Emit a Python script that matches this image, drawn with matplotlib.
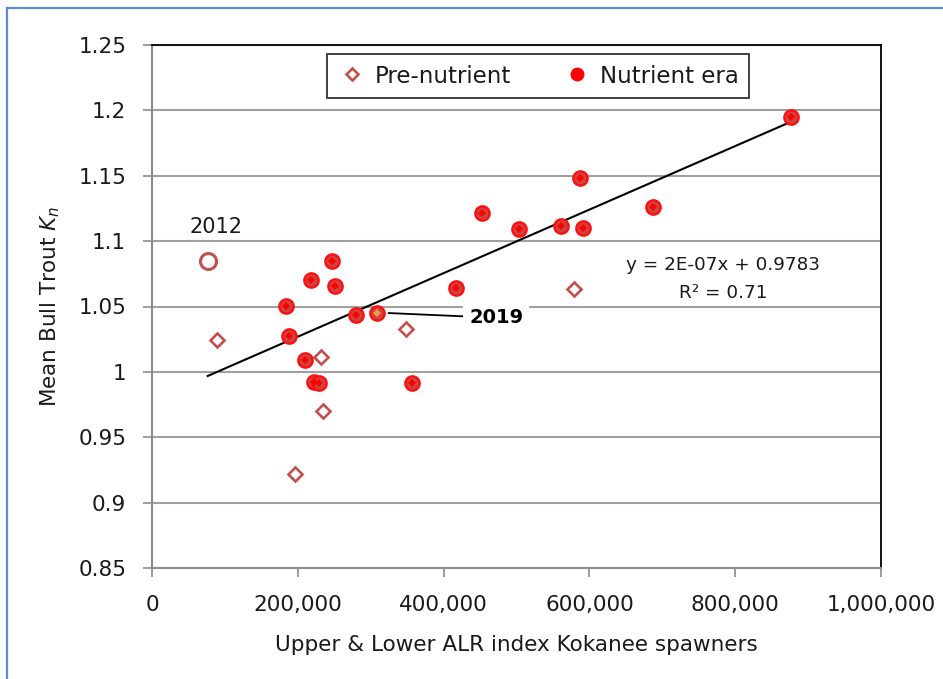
import matplotlib
matplotlib.use("Agg")
import matplotlib.pyplot as plt
from matplotlib.lines import Line2D
from matplotlib.ticker import FuncFormatter, MultipleLocator

# Kokanee spawner index vs. mean Bull Trout relative condition (Kn)
pre_x = [88700, 195700, 232500, 234000, 348900, 579300]
pre_y = [1.0245, 0.9218, 1.0117, 0.9697, 1.0331, 1.0635]

nut_x = [876000, 587500, 686800, 452700, 503400, 560600, 590800, 417000,
         246500, 218600, 250600, 183400, 279800, 187900, 210300, 222200,
         229500, 356700]
nut_y = [1.195, 1.148, 1.1264, 1.1218, 1.109, 1.1116, 1.110, 1.064,
         1.085, 1.0703, 1.0657, 1.0505, 1.0436, 1.0275, 1.0092, 0.9924,
         0.9918, 0.9914]

# highlighted years
yr2012_x, yr2012_y = 76400, 1.085
yr2019_x, yr2019_y = 308200, 1.0454

# linear trend (Excel trendline)
trend_slope = 2.43e-07
trend_intercept = 0.9783
r_squared = 0.71

x_ticks = [0, 200000, 400000, 600000, 800000, 1000000]

W, H = 943, 679
fig = plt.figure(figsize=(W / 100, H / 100), dpi=100)
fig.patch.set_facecolor("white")
ax = fig.add_axes([152 / W, 1 - 568 / H, 729 / W, 523 / H])

ax.set_xlim(0, 1000000)
ax.set_ylim(0.85, 1.25)
ax.set_xticks(x_ticks)
ax.yaxis.set_major_locator(MultipleLocator(0.05))
ax.xaxis.set_major_formatter(FuncFormatter(lambda v, p: f"{int(v):,}"))
ax.yaxis.set_major_formatter(FuncFormatter(lambda v, p: f"{v:.2f}".rstrip("0").rstrip(".")))

grid_col = "#A0A0A0"
ax.grid(axis="y", color=grid_col, linewidth=1.5, zorder=0)
ax.set_axisbelow(True)
for s in ("left", "bottom"):
    ax.spines[s].set_color("#8C8C8C")
    ax.spines[s].set_linewidth(1.5)
for s in ("top", "right"):
    ax.spines[s].set_color("black")
    ax.spines[s].set_linewidth(1.3)
ax.tick_params(axis="both", direction="out", length=6.5, width=1.2,
               color="#8C8C8C", labelsize=15.5, labelcolor="#1a1a1a")
ax.tick_params(axis="y", pad=12)
ax.tick_params(axis="x", pad=13)

# trendline over the data range
all_x = pre_x + nut_x + [yr2012_x, yr2019_x]
tx = [min(all_x), max(all_x)]
ty = [trend_intercept + trend_slope * v for v in tx]
ax.plot(tx, ty, color="black", linewidth=1.5, zorder=3)

# pre-nutrient years
ax.plot(pre_x, pre_y, linestyle="none", marker="D", ms=7.6, mew=1.9,
        mec="#C0504D", mfc="white", zorder=4)

# nutrient era years
ax.plot(nut_x, nut_y, linestyle="none", marker="o", ms=10.2, mew=1.8,
        mec="#FF1010", mfc="#C94642", zorder=4)
ax.plot(nut_x, nut_y, linestyle="none", marker="D", ms=4.2, mew=0,
        mfc="#FF0000", zorder=5)

# 2019
ax.plot([yr2019_x], [yr2019_y], linestyle="none", marker="o", ms=10.2, mew=1.8,
        mec="#FF1010", mfc="#C94642", zorder=4)
ax.plot([yr2019_x], [yr2019_y], linestyle="none", marker="D", ms=4.2, mew=0,
        mfc="#F79646", zorder=5)

# 2012
ax.plot([yr2012_x], [yr2012_y], linestyle="none", marker="o", ms=11.5, mew=2.2,
        mec="#C0504D", mfc="white", zorder=4)

ax.annotate("2012", xy=(yr2012_x, yr2012_y), xytext=(6.3, 24.5),
            textcoords="offset points", ha="center", va="center",
            fontsize=15, color="#1a1a1a")
ax.annotate("2019", xy=(yr2019_x, yr2019_y), xytext=(86, -3.8),
            textcoords="offset points", ha="center", va="center",
            fontsize=14, fontweight="bold", color="black",
            bbox=dict(boxstyle="square,pad=0.3", fc="white", ec="none"),
            arrowprops=dict(arrowstyle="-", color="black", lw=1.3,
                            shrinkA=0, shrinkB=8.5),
            zorder=6)

ax.text(0.7833, 0.5793, f"y = {trend_slope:.0E}x + {trend_intercept:.4f}",
        transform=ax.transAxes, ha="center", va="center", fontsize=13.2,
        color="#1a1a1a")
ax.text(0.7833, 0.5258, f"R\u00b2 = {r_squared:.2f}",
        transform=ax.transAxes, ha="center", va="center", fontsize=13.2,
        color="#1a1a1a")

ax.set_xlabel("Upper & Lower ALR index Kokanee spawners", fontsize=15.5,
              color="#1a1a1a", labelpad=14)
ax.set_ylabel("Mean Bull Trout $K_n$", fontsize=15.5, color="#1a1a1a",
              labelpad=12)

handles = [
    Line2D([], [], linestyle="none", marker="D", ms=6.5, mew=1.9,
           mec="#C0504D", mfc="white"),
    Line2D([], [], linestyle="none", marker="o", ms=10, mew=0, mfc="#FF0000"),
]
leg = ax.legend(handles, ["Pre-nutrient", "Nutrient era"], ncol=2,
                loc="center", bbox_to_anchor=(0.5295, 0.9407),
                fontsize=16.5, frameon=True, fancybox=False,
                edgecolor="black", handletextpad=0.35, columnspacing=2.2,
                handlelength=1.3, borderpad=0.45, borderaxespad=0)
leg.get_frame().set_linewidth(1.3)
for t in leg.get_texts():
    t.set_color("#1a1a1a")

# chart frame
border = "#5B8BD0"
fig.add_artist(Line2D([7 / W, 7 / W], [0, 1 - 8 / H], transform=fig.transFigure,
                      color=border, linewidth=1.6))
fig.add_artist(Line2D([7 / W, 1], [1 - 8 / H, 1 - 8 / H], transform=fig.transFigure,
                      color=border, linewidth=1.6))

fig.savefig("out.png", dpi=100)
